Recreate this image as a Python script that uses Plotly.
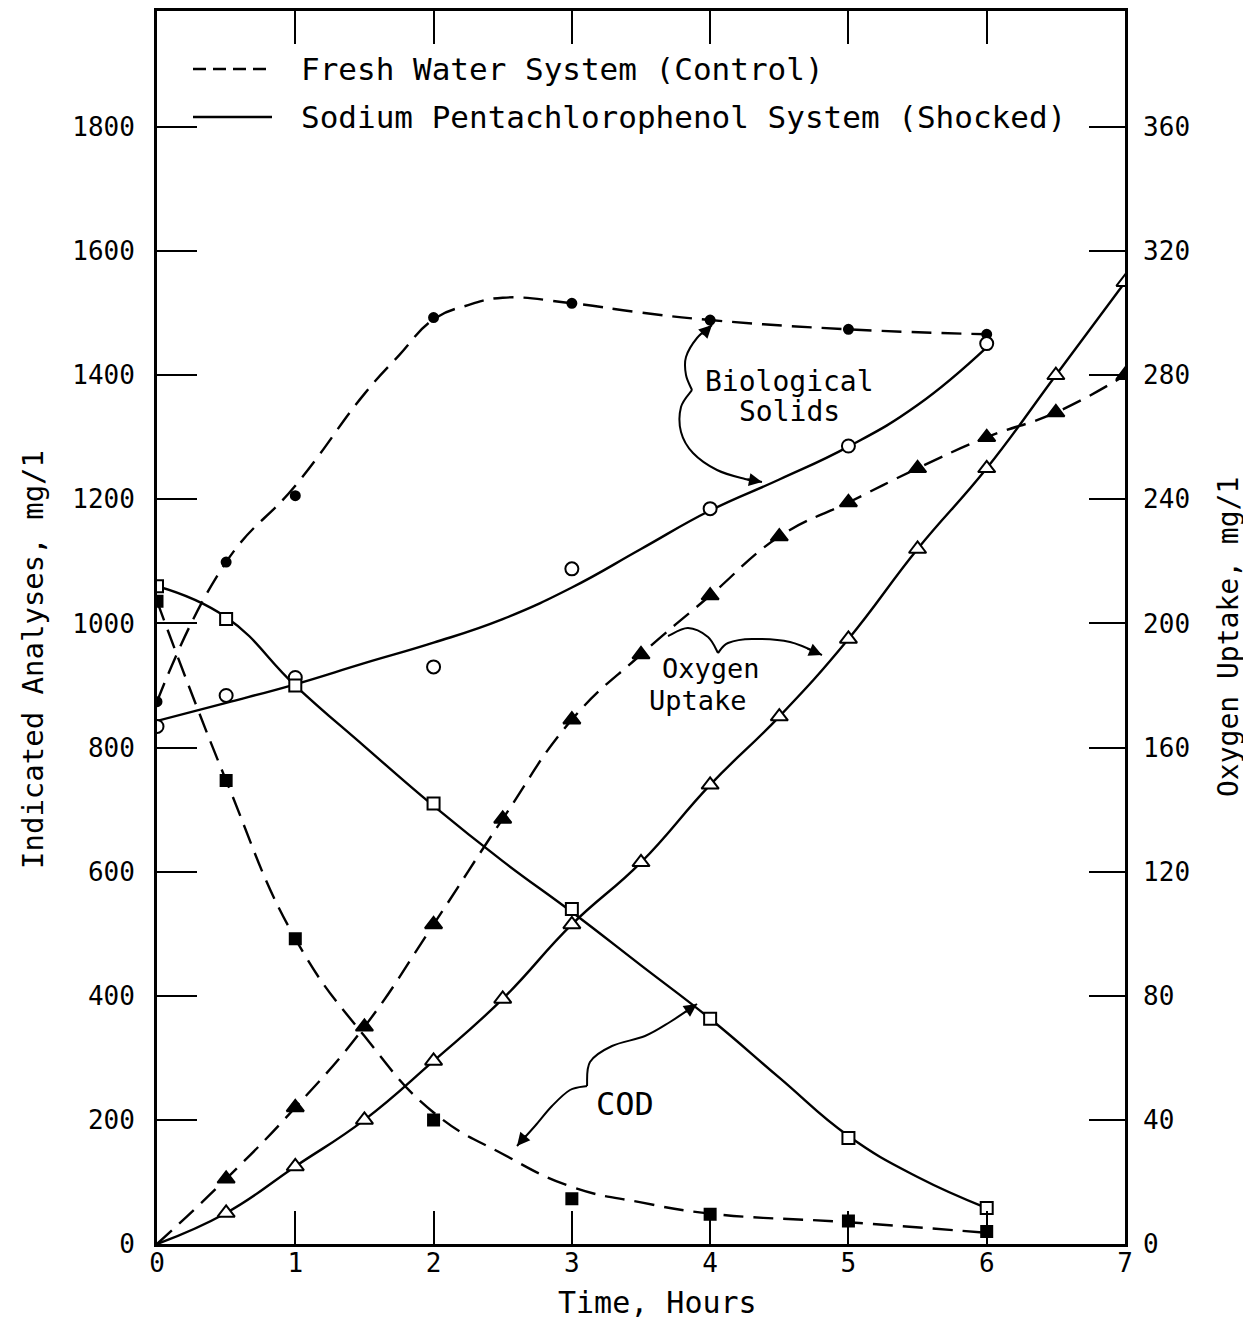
import plotly.graph_objects as go

# ---------------- data ----------------
# measured points (markers)
hours = [0, 0.5, 1, 2, 3, 4, 5, 6]
bio_control = [874, 1099, 1206, 1493, 1516, 1489, 1474, 1466]   # mg/l, fresh water
bio_shocked = [834, 884, 913, 930, 1088, 1185, 1286, 1451]      # mg/l, NaPCP
cod_control = [1036, 747, 492, 200, 73, 48, 37, 20]
cod_shocked = [1060, 1007, 900, 710, 540, 363, 171, 58]

o2_hours = [0, 0.5, 1, 1.5, 2, 2.5, 3, 3.5, 4, 4.5, 5, 5.5, 6, 6.5, 7]
o2_control = [0, 21, 44, 70, 103, 137, 169, 190, 209, 228, 239, 250, 260, 268, 280]
o2_shocked = [0, 10, 25, 40, 59, 79, 103, 123, 148, 170, 195, 224, 250, 280, 310]

# hand-fitted curves as drawn in the reference
bio_control_curve_hours = [0, 0.5, 1, 1.5, 1.75, 2, 2.25, 2.5, 3, 3.5, 4, 5, 6]
bio_control_curve = [874, 1099, 1222, 1370, 1432, 1490, 1513, 1525, 1516, 1501, 1489, 1474, 1466]
bio_shocked_curve_hours = [0, 0.5, 1, 1.5, 2, 2.5, 3, 3.5, 4, 4.5, 5, 5.5, 6]
bio_shocked_curve = [843, 872, 902, 936, 969, 1007, 1058, 1120, 1182, 1232, 1285, 1352, 1445]
cod_control_curve_hours = [0, 0.5, 1, 1.5, 2, 2.5, 3, 3.5, 4, 5, 6]
cod_control_curve = [1036, 747, 492, 335, 212, 145, 92, 67, 49, 35, 18]
cod_shocked_curve_hours = [0, 0.5, 1, 1.5, 2, 2.5, 3, 3.5, 4, 4.5, 5, 5.5, 6]
cod_shocked_curve = [1060, 1010, 900, 802, 706, 617, 535, 449, 363, 268, 174, 108, 58]

x_ticks = [0, 1, 2, 3, 4, 5, 6, 7]
y_ticks = [0, 200, 400, 600, 800, 1000, 1200, 1400, 1600, 1800]
y2_ticks = [0, 40, 80, 120, 160, 200, 240, 280, 320, 360]

legend_labels = ["Fresh Water System (Control)",
                 "Sodium Pentachlorophenol System (Shocked)"]

# ---------------- geometry ----------------
W, H = 1243, 1316
ML, MR, MT, MB = 149, 126, 3, 80
X_MAX = 7
Y_MAX = 1987
Y2_MAX = Y_MAX / 5

FONT = "DejaVu Sans Mono"
INK = "black"
DASH = "20px,10px"

# page pixel -> data / paper (for the hand-drawn decorations only)
PX0, PX1, PY0, PY1 = 157, 1125, 11, 1244


def pd(px, py):
    return ((px - PX0) / (PX1 - PX0) * X_MAX, (PY1 - py) / (PY1 - PY0) * Y_MAX)


def pp(px, py):
    return ((px - PX0) / (PX1 - PX0), (PY1 - py) / (PY1 - PY0))


def smooth_path(pts):
    d = [pd(*p) for p in pts]
    s = f"M {d[0][0]:.4f},{d[0][1]:.2f}"
    for i in range(len(d) - 1):
        p0 = d[i - 1] if i > 0 else d[i]
        p1, p2 = d[i], d[i + 1]
        p3 = d[i + 2] if i + 2 < len(d) else d[i + 1]
        c1 = (p1[0] + (p2[0] - p0[0]) / 6, p1[1] + (p2[1] - p0[1]) / 6)
        c2 = (p2[0] - (p3[0] - p1[0]) / 6, p2[1] - (p3[1] - p1[1]) / 6)
        s += (f" C {c1[0]:.4f},{c1[1]:.2f} {c2[0]:.4f},{c2[1]:.2f}"
              f" {p2[0]:.4f},{p2[1]:.2f}")
    return s


fig = go.Figure()


def add_line(x, y, dashed, yaxis="y"):
    ls = dict(color=INK, width=2.4, shape="spline", smoothing=1.3)
    if dashed:
        ls["dash"] = DASH
    fig.add_trace(go.Scatter(x=x, y=y, mode="lines", line=ls, yaxis=yaxis,
                             showlegend=False, hoverinfo="skip"))


def add_marks(x, y, symbol, size, filled, yaxis="y"):
    fig.add_trace(go.Scatter(
        x=x, y=y, mode="markers", yaxis=yaxis,
        marker=dict(symbol=symbol, size=size,
                    color=INK if filled else "white",
                    line=dict(color=INK, width=2)),
        showlegend=False))


add_line(bio_control_curve_hours, bio_control_curve, True)
add_line(bio_shocked_curve_hours, bio_shocked_curve, False)
add_line(cod_control_curve_hours, cod_control_curve, True)
add_line(cod_shocked_curve_hours, cod_shocked_curve, False)
add_line(o2_hours, o2_control, True, "y2")
add_line(o2_hours, o2_shocked, False, "y2")

add_marks(hours, bio_control, "circle", 9, True)
add_marks(hours, bio_shocked, "circle", 13, False)
add_marks(hours, cod_control, "square", 11, True)
add_marks(hours, cod_shocked, "square", 12, False)
add_marks(o2_hours[1:], o2_control[1:], "triangle-up", 15, True, "y2")
add_marks(o2_hours[1:], o2_shocked[1:], "triangle-up", 15, False, "y2")

shapes = []
annotations = []

# ---- curly pointers ----
pointer_paths = [
    [(692, 390), (686, 375), (686, 357), (697, 338), (712, 325)],
    [(692, 390), (681, 407), (681, 432), (693, 453), (717, 470), (745, 479), (762, 482)],
    [(668, 636), (688, 628), (708, 637), (718, 653)],
    [(718, 653), (728, 643), (752, 639), (790, 642), (822, 655)],
    [(587, 1086), (590, 1062), (612, 1046), (645, 1036), (670, 1022), (697, 1004)],
    [(587, 1086), (570, 1090), (552, 1106), (535, 1126), (517, 1146)],
]
for pts in pointer_paths:
    shapes.append(dict(type="path", xref="x", yref="y", path=smooth_path(pts),
                       line=dict(color=INK, width=2)))

arrow_tips = [((712, 325), (701, 336)), ((762, 482), (746, 479)),
              ((822, 655), (806, 648)), ((697, 1004), (684, 1013)),
              ((517, 1146), (527, 1134))]
for (tip, tail) in arrow_tips:
    tx, ty = pd(*tip)
    annotations.append(dict(x=tx, y=ty, xref="x", yref="y", text="",
                            showarrow=True, arrowhead=2, arrowsize=1.3,
                            arrowwidth=2, arrowcolor=INK,
                            ax=tail[0] - tip[0], ay=tail[1] - tip[1]))

# ---- labels on the plot ----
for txt, (cx, cy), size in [("Biological", (789, 381), 28),
                            ("Solids", (789, 411), 28),
                            ("Oxygen", (711, 668), 27),
                            ("Uptake", (698, 700), 27),
                            ("COD", (625, 1104), 32)]:
    x, y = pd(cx, cy)
    annotations.append(dict(x=x, y=y, xref="x", yref="y", text=txt,
                            showarrow=False, align="center",
                            font=dict(family=FONT, size=size, color=INK)))

# ---- hand-made legend ----
for i, (label, py) in enumerate(zip(legend_labels, [69, 117])):
    x0, y0 = pp(193, py)
    x1, _ = pp(272, py)
    shapes.append(dict(type="line", xref="paper", yref="paper",
                       x0=x0, x1=x1, y0=y0, y1=y0,
                       line=dict(color=INK, width=2.4,
                                 dash="13px,7px" if i == 0 else "solid")))
    tx, ty = pp(299, py)
    annotations.append(dict(x=tx, y=ty, xref="paper", yref="paper",
                            xanchor="left", yanchor="middle", text=label,
                            showarrow=False,
                            font=dict(family=FONT, size=31, color=INK)))

# ---- axis titles ----
for txt, (cx, cy), angle, size in [("Indicated Analyses, mg/1", (33, 660), -90, 29),
                                   ("Oxygen Uptake, mg/1", (1228, 637), -90, 28),
                                   ("Time, Hours", (657, 1303), 0, 30)]:
    x, y = pp(cx, cy)
    annotations.append(dict(x=x, y=y, xref="paper", yref="paper", text=txt,
                            textangle=angle, showarrow=False,
                            xanchor="center", yanchor="middle",
                            font=dict(family=FONT, size=size, color=INK)))

tick_font = dict(family=FONT, size=26, color=INK)

fig.update_layout(
    width=W, height=H,
    margin=dict(l=ML, r=MR, t=MT, b=MB, autoexpand=False),
    paper_bgcolor="white", plot_bgcolor="white",
    shapes=shapes, annotations=annotations,
    xaxis=dict(range=[0, X_MAX], tickvals=x_ticks, ticktext=[str(v) for v in x_ticks],
               ticks="inside", ticklen=33, tickwidth=2, tickcolor=INK,
               showline=True, linewidth=2.8, linecolor=INK, mirror="ticks",
               showgrid=False, zeroline=False, tickfont=tick_font,
               ticklabelstandoff=-6, automargin=False),
    yaxis=dict(range=[0, Y_MAX], tickvals=y_ticks, ticktext=[str(v) for v in y_ticks],
               ticks="inside", ticklen=40, tickwidth=2, tickcolor=INK,
               showline=True, linewidth=2.8, linecolor=INK,
               showgrid=False, zeroline=False, tickfont=tick_font,
               ticklabelstandoff=14, automargin=False),
    yaxis2=dict(range=[0, Y2_MAX], tickvals=y2_ticks, ticktext=[str(v) for v in y2_ticks],
                overlaying="y", side="right",
                ticks="inside", ticklen=36, tickwidth=2, tickcolor=INK,
                showline=True, linewidth=2.8, linecolor=INK,
                showgrid=False, zeroline=False, tickfont=tick_font,
                ticklabelstandoff=10, automargin=False),
    showlegend=False,
)

fig.write_html("out.html")
